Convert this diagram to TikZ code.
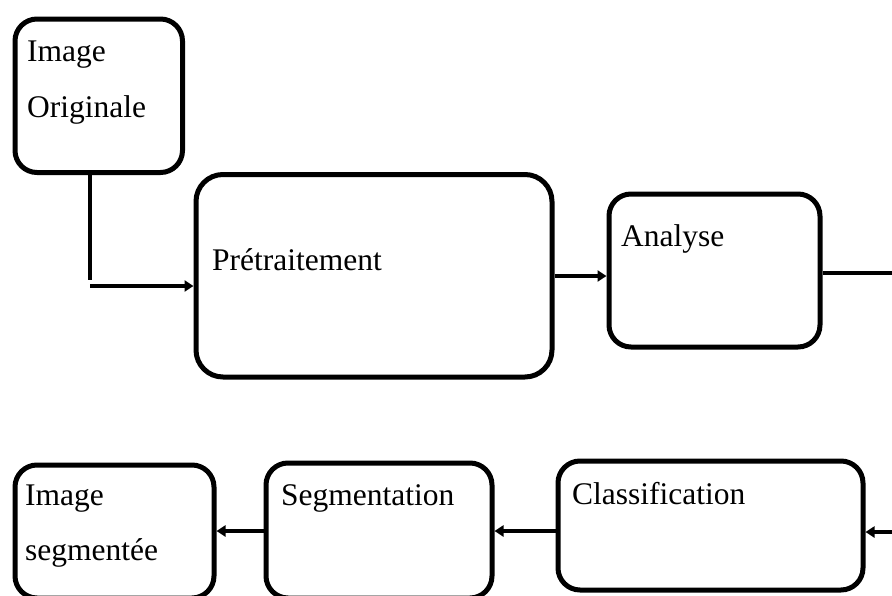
\documentclass[tikz,border=0pt]{standalone}
\usepackage{fontspec}
\setmainfont{Liberation Serif}
\usetikzlibrary{arrows.meta}
\begin{document}
\begin{tikzpicture}[x=1pt,y=-1pt,
  box/.style={draw, line width=5pt, rounded corners=22pt, inner sep=0pt},
  lbl/.style={anchor=base west, inner sep=0pt, font=\fontsize{31.5}{36}\selectfont},
  conn/.style={line width=4.5pt},
  arr/.style={line width=4.5pt, -{Triangle[length=9pt,width=11pt]}}]
\useasboundingbox (0,0) rectangle (892,595);
\clip (0,0) rectangle (892,595);
% boxes
\node[box, minimum width=167.5pt, minimum height=153.5pt] (orig) at (98.75,95.75) {};
\node[box, rounded corners=27pt, minimum width=356pt, minimum height=202.5pt] (pre) at (374,275.75) {};
\node[box, minimum width=211pt, minimum height=153pt] (ana) at (714.5,270.5) {};
\node[box, minimum width=305pt, minimum height=129pt] (cls) at (710.5,525.5) {};
\node[box, minimum width=226pt, minimum height=135pt] (seg) at (379,530.5) {};
\node[box, minimum width=199pt, minimum height=133pt] (iseg) at (114.5,531.5) {};
% labels
\node[lbl] (t1) at (27,61) {Image};
\node[lbl] (t2) at (27,117) {Originale};
\node[lbl] (t3) at (212,270) {Prétraitement};
\node[lbl] (t4) at (621,246) {Analyse};
\node[lbl] (t5) at (572,504) {Classification};
\node[lbl] (t6) at (281,505) {Segmentation};
\node[lbl] (t7) at (25,505) {Image};
\node[lbl] (t8) at (25,560) {segmentée};
% connectors
\coordinate (c0) at (90,280);
\coordinate (c1) at (90,286);
\coordinate (c2) at (905,273);
\coordinate (c3) at (905,532);
\draw[conn] (orig.south -| c0) -- (c0);
\draw[arr] (c1) -- (c1 -| pre.west);
\draw[arr] (pre.east |- 0,276) -- (ana.west |- 0,276);
\draw[conn] (ana.east |- c2) -- (c2) -- (c3);
\draw[arr] (c3) -- (c3 -| cls.east);
\draw[arr] (cls.west |- 0,531) -- (seg.east |- 0,531);
\draw[arr] (seg.west |- 0,531) -- (iseg.east |- 0,531);
\end{tikzpicture}
\end{document}
